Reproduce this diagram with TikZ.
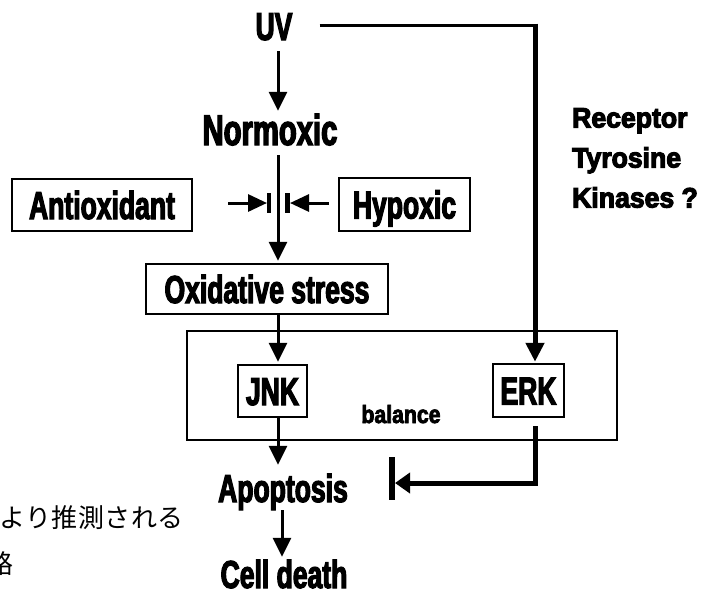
\documentclass[tikz,border=0pt]{standalone}
\usepackage{fontspec}
\setmainfont{Liberation Sans}
\newfontfamily\impfont{Liberation Sans Bold}[FakeStretch=0.68,FakeBold=3]
\newfontfamily\rtkfont{Liberation Sans Bold}[FakeStretch=0.95,FakeBold=4]
\newfontfamily\balfont{Liberation Sans Bold}[FakeStretch=0.85,FakeBold=3]
\newfontfamily\jpfont{Noto Sans CJK JP}[LetterSpace=2]
\usetikzlibrary{arrows.meta}
\begin{document}
\begin{tikzpicture}[x=1pt,y=-1pt,
  lbl/.style={font=\impfont\fontsize{39pt}{39pt}\selectfont, inner sep=0pt, text height=28pt, text depth=0pt},
  boxn/.style={lbl, draw, line width=2.5pt},
  conn/.style={line width=3pt},
  thickconn/.style={line width=5pt},
  tipv/.style={-{Triangle[length=19pt,width=18pt]}},
  tiph/.style={-{Triangle[length=19pt,width=17pt]}},
  barline/.style={line width=4.5pt},
  jp/.style={anchor=east, inner sep=0pt, font=\jpfont\fontsize{26pt}{26pt}\selectfont},
]
\useasboundingbox (0,0) rectangle (706,592);
\clip (0,0) rectangle (706,592);

% nodes
\node[lbl, anchor=base] (uv) at (274,40) {UV};
\node[lbl, anchor=base, font=\impfont\fontsize{43pt}{43pt}\selectfont, text height=31pt] (norm) at (270,145) {Normoxic};
\node[boxn, minimum width=180pt, minimum height=52pt] (ant) at (102,205) {Antioxidant};
\node[boxn, minimum width=131pt, minimum height=53pt] (hyp) at (404.5,204.5) {Hypoxic};
\node[boxn, minimum width=242pt, minimum height=50pt] (ox) at (267,289) {Oxidative stress};
\node[draw, line width=2pt, minimum width=430pt, minimum height=109pt, inner sep=0pt] (bal) at (402,385.5) {};
\node[boxn, minimum width=69pt, minimum height=52pt] (jnk) at (272.5,391) {JNK};
\node[boxn, minimum width=71pt, minimum height=53pt] (erk) at (528.5,390.5) {ERK};
\node[anchor=base, inner sep=0pt, font=\balfont\fontsize{25pt}{25pt}\selectfont] (balt) at (401,423) {balance};
\node[lbl, anchor=base] (apo) at (283,502) {Apoptosis};
\node[lbl, anchor=base] (cell) at (284,588) {Cell death};
\node[anchor=north west, inner sep=0pt, align=left, font=\rtkfont\fontsize{28pt}{40pt}\selectfont] (rtk) at (572,108) {Receptor\\Tyrosine\\Kinases ?};
\node[jp] (jp1) at (184,518) {より推測される};
\node[jp] (jp2) at (14,564) {路};

% helper coordinates
\coordinate (vx) at (278,0);
\coordinate (vx2) at (282,0);
\coordinate (barL) at (269,203);
\coordinate (barR) at (287.5,203);
\coordinate (k1) at (535,25);
\coordinate (k2) at (535,483);
\coordinate (barA) at (392,483);

% main column
\draw[conn, tipv, shorten <=11pt, shorten >=3pt] (uv.south -| vx) -- (norm.north -| vx);
\draw[conn, tipv, shorten <=10pt, shorten >=2pt] (norm.south -| vx) -- (ox.north -| vx);
\draw[conn, tipv, shorten >=2pt] (ox.south -| vx) -- (jnk.north -| vx);
\draw[conn, tipv, shorten >=9pt] (jnk.south -| vx) -- (apo.north -| vx);
\draw[conn, tipv, shorten <=8pt, shorten >=3pt] (apo.south -| vx2) -- (cell.north -| vx2);

% inhibitor arrows
\draw[barline] (barL) +(0,-10) -- +(0,10);
\draw[barline] (barR) +(0,-10) -- +(0,10);
\draw[conn, tiph, shorten <=35pt, shorten >=2pt] (ant.east |- barL) -- (barL);
\draw[conn, tiph, shorten <=9pt, shorten >=2.5pt] (hyp.west |- barR) -- (barR);

% UV -> ERK
\draw[conn, shorten <=27pt] (uv.east |- k1) -- (k1);
\draw[thickconn, tipv, shorten >=1pt] ([yshift=1.5pt]k1) -- (erk.north -| k1);

% ERK -| Apoptosis
\draw[thickconn, line join=miter, -{Triangle[length=15pt,width=20pt]}, shorten <=8pt, shorten >=3pt] (erk.south -| k2) -- (k2) -- (barA);
\draw[line width=6pt] (barA) +(0,-26) -- +(0,17);
\end{tikzpicture}
\end{document}
